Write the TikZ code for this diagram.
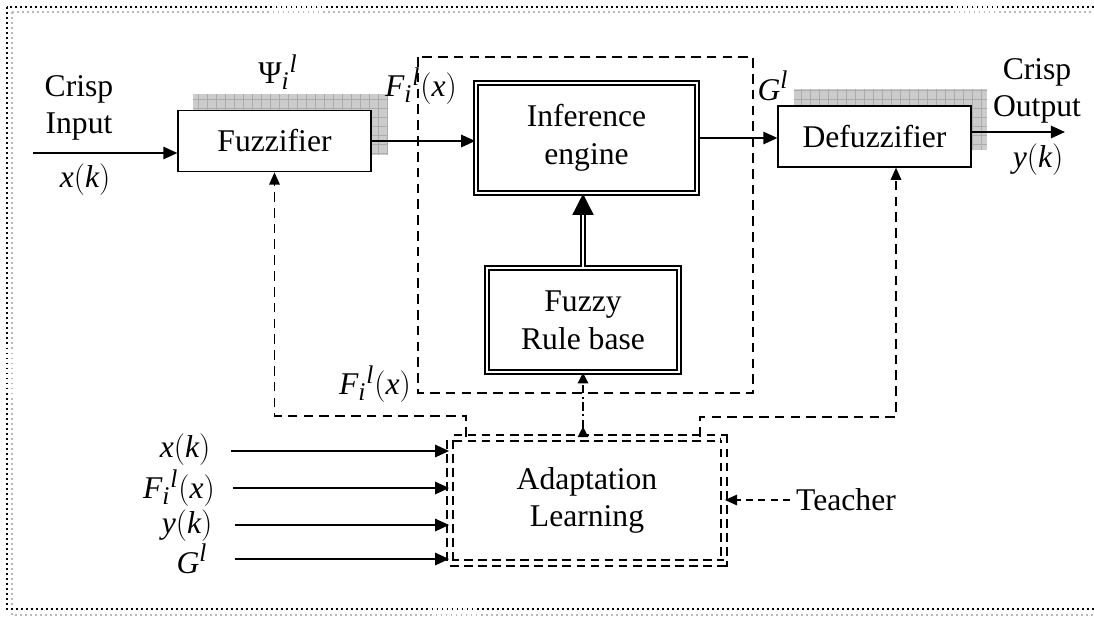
\documentclass[tikz,border=0pt]{standalone}
\usepackage{fix-cm}
\usepackage{fontspec}
\setmainfont{Liberation Serif}
\usetikzlibrary{arrows.meta,calc}
\DeclareMathSizes{18}{18}{14.5}{11}
\newcommand{\vv}[1]{\mathit{#1}}

\begin{document}
\begin{tikzpicture}[x=0.02cm, y=-0.02cm,
    font=\fontsize{18}{21.5}\selectfont,
    block/.style={draw, line width=0.7pt, fill=white, minimum width=3.86cm, minimum height=1.23cm},
    core/.style={draw, double, line width=0.9pt, double distance=1.4pt, fill=white, align=center},
    learn/.style={draw, double, line width=1pt, double distance=2.2pt, dash pattern=on 5pt off 3pt,
                  align=center, minimum width=5.48cm, minimum height=2.5cm},
    sig/.style={-{Triangle[length=8pt,width=7pt]}, line width=1.1pt},
    fb/.style={-{Triangle[length=7pt,width=6pt]}, line width=0.9pt, dash pattern=on 5.5pt off 3.5pt},
    dblarr/.style={double, line width=0.8pt, double distance=1.3pt, -{Triangle[length=12pt,width=12pt]}},
    rulefb/.style={line width=0.8pt, dash pattern=on 5pt off 2pt on 1pt off 2pt,
                   {Triangle[reversed,length=6pt,width=6pt]}-{Triangle[length=6pt,width=6pt]}},
    zone/.style={line width=0.9pt, dash pattern=on 5.5pt off 3.5pt},
    border/.style={line width=1.1pt, dash pattern=on 1.1pt off 1.75pt},
    mesh/.style={gray!65, line width=0.3pt, step=0.18cm}
]
\useasboundingbox (0,0) rectangle (1094,616);

% frame
\draw[border, gray!55] (12,12) rectangle (1110,615);
\draw[border] (7,7) rectangle (1110,609);

% fuzzy core region
\draw[zone] (418,57) rectangle (753,393);

% shaded membership areas
\fill[gray!40] (193,94) rectangle (387,155);
\draw[mesh] (193,94) grid (387,155);
\fill[gray!40] (794,89) rectangle (987,150);
\draw[mesh] (794,89) grid (987,150);

% blocks
\node[block] (fuzz) at (274.5,141) {Fuzzifier};
\node[core, minimum width=4.42cm, minimum height=2.2cm] (inf) at (586.5,138) {Inference\\engine};
\node[core, minimum width=3.84cm, minimum height=2.08cm] (rule) at (583,320) {Fuzzy\\Rule base};
\node[block, minimum height=1.22cm] (defuzz) at (874.5,136.5) {Defuzzifier};
\node[learn] (adapt) at (587,500.5) {Adaptation\\Learning};

% signal labels
\node[align=center] (crispin) at (79,108) {Crisp\\Input};
\node (xin) at (85,180) {$\vv{x}(\vv{k})$};
\node (psi) at (278,72) {${\mbox{Ψ}_{\vv{i}}}^{\vv{l}}$};
\node (fin) at (421,86) {${\vv{F}_{\vv{i}}}^{\vv{l}}(\vv{x})$};
\node (gout) at (773,86) {$\vv{G}^{\vv{l}}$};
\node[align=center] (crispout) at (1037,91) {Crisp\\Output};
\node (yout) at (1038,160) {$\vv{y}(\vv{k})$};
\node[anchor=east] (fdown) at (417,384) {${\vv{F}_{\vv{i}}}^{\vv{l}}(\vv{x})$};

% forward path
\coordinate (inp) at (33,153);
\coordinate (outp) at (1065,132);
\draw[sig] (inp) -- (inp -| fuzz.west);
\draw[sig] (fuzz.east) -- (fuzz.east -| inf.west);
\draw[sig] (inf.east) -- (inf.east -| defuzz.west);
\draw[sig] (outp -| defuzz.east) -- (outp);
\draw[dblarr] (rule.north) -- (rule.north |- inf.south);

% learning inputs
\node (l1) at (185,450) {$\vv{x}(\vv{k})$};
\node (l2) at (179,488) {${\vv{F}_{\vv{i}}}^{\vv{l}}(\vv{x})$};
\node (l3) at (187,526) {$\vv{y}(\vv{k})$};
\node (l4) at (192,559) {$\vv{G}^{\vv{l}}$};
\draw[sig] (l1) ++(46,1) -- ($(l1 -| adapt.west)+(0,1)$);
\draw[sig] (l2) ++(54,0) -- (l2 -| adapt.west);
\draw[sig] (l3) ++(48,-1) -- ($(l3 -| adapt.west)+(0,-1)$);
\draw[sig] (l4) ++(43,0) -- (l4 -| adapt.west);

\node (teach) at (846,500) {Teacher};
\draw[fb, dash pattern=on 4pt off 3pt] (teach.west) -- (teach.west -| adapt.east);

% adaptation feedback
\coordinate (fbl) at (466,416);
\coordinate (fbr) at (700,417);
\coordinate (fbd) at (896,417);
\draw[fb] (fbl |- adapt.north) -- (fbl) -| (fuzz.south);
\draw[fb] (fbr |- adapt.north) -- (fbr) -- (fbd) -- (fbd |- defuzz.south);
\draw[rulefb] (rule.south |- adapt.north) -- (rule.south);

\end{tikzpicture}
\end{document}
